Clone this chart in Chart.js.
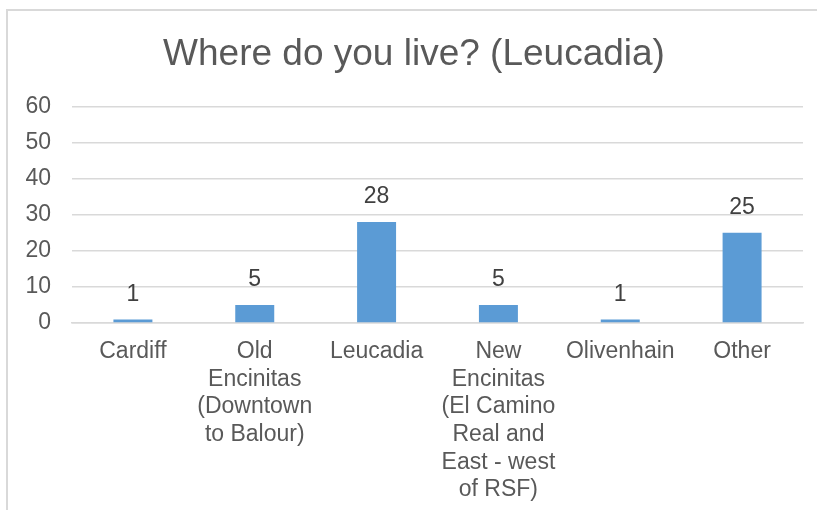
<!DOCTYPE html>
<html>
<head>
<meta charset="utf-8">
<script src="https://cdn.jsdelivr.net/npm/chart.js@4/dist/chart.umd.min.js"></script>
<style>
  html, body { margin: 0; padding: 0; background: #fff; overflow: hidden; }
  #wrap {
    position: absolute; left: 6px; top: 9px;
    width: 823px; height: 501px;
    border-left: 2px solid #d9d9d9; border-top: 2px solid #d9d9d9;
  }
</style>
</head>
<body>
<div id="wrap"><canvas id="chart"></canvas></div>
<script>
const categories = [
  'Cardiff',
  ['Old', 'Encinitas', '(Downtown', 'to Balour)'],
  'Leucadia',
  ['New', 'Encinitas', '(El Camino', 'Real and', 'East - west', 'of RSF)'],
  'Olivenhain',
  'Other'
];
const counts = [1, 5, 28, 5, 1, 25];
const yTicks = [0, 10, 20, 30, 40, 50, 60];

const FONT = '"Liberation Sans", Arial, sans-serif';

// draw the value above each bar
const valueLabels = {
  id: 'valueLabels',
  afterDatasetsDraw(chart) {
    const ctx = chart.ctx;
    const meta = chart.getDatasetMeta(0);
    ctx.save();
    ctx.font = '23px ' + FONT;
    ctx.fillStyle = '#404040';
    ctx.textAlign = 'center';
    ctx.textBaseline = 'middle';
    meta.data.forEach((bar, i) => {
      ctx.fillText(String(counts[i]), bar.x, bar.y - 25);
    });
    ctx.restore();
  }
};

new Chart(document.getElementById('chart'), {
  type: 'bar',
  data: {
    labels: categories,
    datasets: [{
      data: counts,
      backgroundColor: '#5B9BD5',
      borderWidth: 0,
      categoryPercentage: 1,
      barPercentage: 0.32
    }]
  },
  options: {
    responsive: true,
    maintainAspectRatio: false,
    animation: false,
    layout: { padding: { left: 17, right: 28, top: 4, bottom: 0 } },
    plugins: {
      legend: { display: false },
      tooltip: { enabled: false },
      title: {
        display: true,
        text: 'Where do you live? (Leucadia)',
        color: '#595959',
        font: { family: FONT, size: 37, weight: 'normal' },
        padding: { top: 18, bottom: 29 }
      }
    },
    scales: {
      y: {
        min: 0,
        max: 60,
        afterBuildTicks: (axis) => { axis.ticks = yTicks.map(v => ({ value: v })); },
        afterFit: (axis) => { axis.width = 47; },
        grid: { color: '#d9d9d9', lineWidth: 1.5, drawTicks: false },
        border: { display: false },
        ticks: {
          color: '#595959',
          font: { family: FONT, size: 23 },
          padding: 21
        }
      },
      x: {
        afterFit: (axis) => { axis.height = 189; },
        grid: { display: false, drawTicks: false },
        border: { display: true, color: '#d9d9d9', width: 1.5 },
        ticks: {
          color: '#595959',
          font: { family: FONT, size: 23, lineHeight: 1.2 },
          padding: 15,
          maxRotation: 0,
          autoSkip: false
        }
      }
    }
  },
  plugins: [valueLabels]
});
</script>
</body>
</html>
